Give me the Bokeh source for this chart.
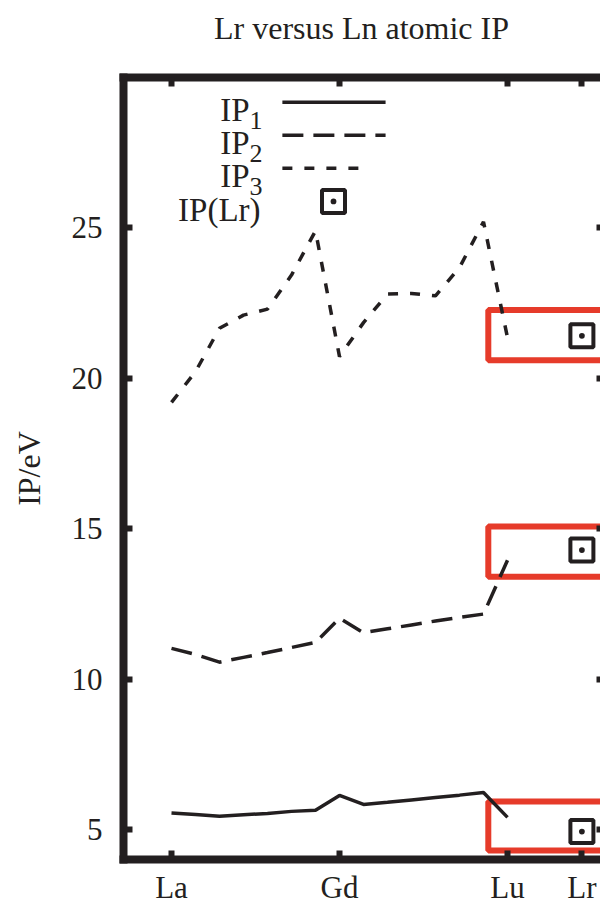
from bokeh.plotting import figure
from bokeh.models import Range1d, LinearAxis, FixedTicker, Label, ColumnDataSource, Div
from bokeh.layouts import column
from bokeh.embed import file_html
from bokeh.resources import INLINE

# ---------------- data ----------------
elements = ["La", "Ce", "Pr", "Nd", "Pm", "Sm", "Eu", "Gd", "Tb", "Dy", "Ho", "Er", "Tm", "Yb", "Lu"]
atomic_number = [57, 58, 59, 60, 61, 62, 63, 64, 65, 66, 67, 68, 69, 70, 71]
ip1 = [5.55, 5.50, 5.44, 5.49, 5.53, 5.60, 5.64, 6.13, 5.83, 5.90, 5.98, 6.06, 6.14, 6.23, 5.40]
ip2 = [11.02, 10.82, 10.56, 10.72, 10.88, 11.05, 11.22, 12.02, 11.54, 11.67, 11.80, 11.93, 12.05, 12.16, 13.95]
ip3 = [19.20, 20.22, 21.66, 22.10, 22.30, 23.43, 24.90, 20.72, 21.85, 22.80, 22.82, 22.74, 23.68, 25.20, 21.35]

lr_position = [74.1, 74.1, 74.1]
lr_ip = [4.93, 14.29, 21.41]

x_ticks = [57, 64, 71, 74.1]
x_tick_labels = ["La", "Gd", "Lu", "Lr"]
y_ticks = [5, 10, 15, 20, 25]

box_left = [70.2, 70.2, 70.2]
box_right = [76.0, 76.0, 76.0]
box_bottom = [4.30, 13.40, 20.60]
box_top = [5.93, 15.07, 22.27]

legend_labels = ["1", "2", "3"]
title_text = "Lr versus Ln atomic IP"

# ---------------- style ----------------
INK = "#231f20"
RED = "#e63b2a"
FONT = "Liberation Serif"
X0, X1, Y0, Y1 = 55, 74.875, 4, 30
TITLE_H = 50

p = figure(frame_width=477, frame_height=782,
           x_range=Range1d(X0, X1), y_range=Range1d(Y0, Y1),
           output_backend="svg", toolbar_location=None,
           min_border_left=123, min_border_right=0,
           min_border_top=77 - TITLE_H, min_border_bottom=0)
p.outline_line_color = None
p.xgrid.visible = False
p.ygrid.visible = False
p.background_fill_color = "white"
p.border_fill_color = "white"

def style_axis(ax, tick_in=9):
    ax.axis_line_width = 8
    ax.axis_line_color = INK
    ax.axis_line_cap = "square"
    ax.major_tick_in = tick_in
    ax.major_tick_out = 0
    ax.major_tick_line_width = 6
    ax.major_tick_line_color = INK
    ax.minor_tick_line_color = None
    ax.major_label_text_font = FONT
    ax.major_label_text_color = INK

# bottom axis
xa = p.xaxis[0]
xa.ticker = FixedTicker(ticks=x_ticks)
xa.major_label_overrides = {t: l for t, l in zip(x_ticks, x_tick_labels)}
style_axis(xa)
xa.major_label_text_font_size = "31px"
xa.major_label_standoff = 10

# left axis
ya = p.yaxis[0]
ya.ticker = FixedTicker(ticks=y_ticks)
style_axis(ya)
ya.major_label_text_font_size = "31px"
ya.major_label_standoff = 21
ya.axis_label = "IP/eV"
ya.axis_label_text_font = FONT
ya.axis_label_text_font_size = "32px"
ya.axis_label_text_font_style = "normal"
ya.axis_label_text_color = INK
ya.axis_label_standoff = 22

# top axis (frame + ticks only, labels not drawn)
top = LinearAxis(ticker=FixedTicker(ticks=x_ticks))
style_axis(top)
top.major_label_text_font_size = "1px"
top.major_label_text_color = None
top.major_label_standoff = 0
p.add_layout(top, "above")

# right axis (just inward ticks at the cut edge, labels not drawn)
right = LinearAxis(ticker=FixedTicker(ticks=y_ticks))
style_axis(right, tick_in=4)
right.axis_line_color = None
right.major_label_text_font_size = "1px"
right.major_label_text_color = None
right.major_label_standoff = 0
p.add_layout(right, "right")

# ---------------- highlight boxes ----------------
p.quad(left=box_left, right=box_right, bottom=box_bottom, top=box_top,
       fill_color=None, line_color=RED, line_width=6)

# ---------------- curves ----------------
src = ColumnDataSource(dict(z=atomic_number, ip1=ip1, ip2=ip2, ip3=ip3, el=elements))
p.line("z", "ip1", source=src, line_color=INK, line_width=3.5)
p.line("z", "ip2", source=src, line_color=INK, line_width=3.5, line_dash="21 10")
p.line("z", "ip3", source=src, line_color=INK, line_width=3.5, line_dash="10 12")

p.scatter(lr_position, lr_ip, marker="square_dot", size=23, line_width=4,
          line_color=INK, fill_color=None)

# ---------------- legend (label left, key right) ----------------
leg_rows = [29.18, 28.08, 26.98, 25.88]
leg_x0, leg_x1 = 61.62, 65.92
leg_marker_x = 63.75
leg_text_x = 60.25
dashes = ["solid", "21 10", "10 12"]
for i in range(3):
    row = leg_rows[i]
    p.line([leg_x0, leg_x1 if i < 2 else 65.2], [row, row], line_color=INK,
           line_width=3.5, line_dash=dashes[i])
    p.add_layout(Label(x=leg_text_x, y=row - 0.25, text="IP", text_align="right",
                       text_baseline="alphabetic", text_font=FONT,
                       text_font_size="33px", text_color=INK))
    p.add_layout(Label(x=leg_text_x, y=row - 0.6, text=legend_labels[i],
                       text_align="left", text_baseline="alphabetic",
                       text_font=FONT, text_font_size="26px", text_color=INK))
p.scatter([leg_marker_x], [leg_rows[3]], marker="square_dot", size=23,
          line_width=4, line_color=INK, fill_color=None)
p.add_layout(Label(x=leg_text_x + 0.46, y=leg_rows[3] - 0.28, text="IP(Lr)",
                   text_align="right", text_baseline="alphabetic",
                   text_font=FONT, text_font_size="33px", text_color=INK))

# ---------------- title (centred over the frame) ----------------
title = Div(
    text=('<div style="box-sizing:border-box; width:600px; padding-left:123px; '
          'padding-top:12px; font-family:\'Liberation Serif\'; font-size:32px; '
          'line-height:32px; color:%s; text-align:center; white-space:nowrap;">'
          '<div style="width:477px; text-align:center;">%s</div></div>') % (INK, title_text),
    width=600, height=TITLE_H, margin=(0, 0, 0, 0))

layout = column(title, p, spacing=0, margin=(0, 0, 0, 0))

open("out.html", "w").write(file_html(layout, INLINE))
